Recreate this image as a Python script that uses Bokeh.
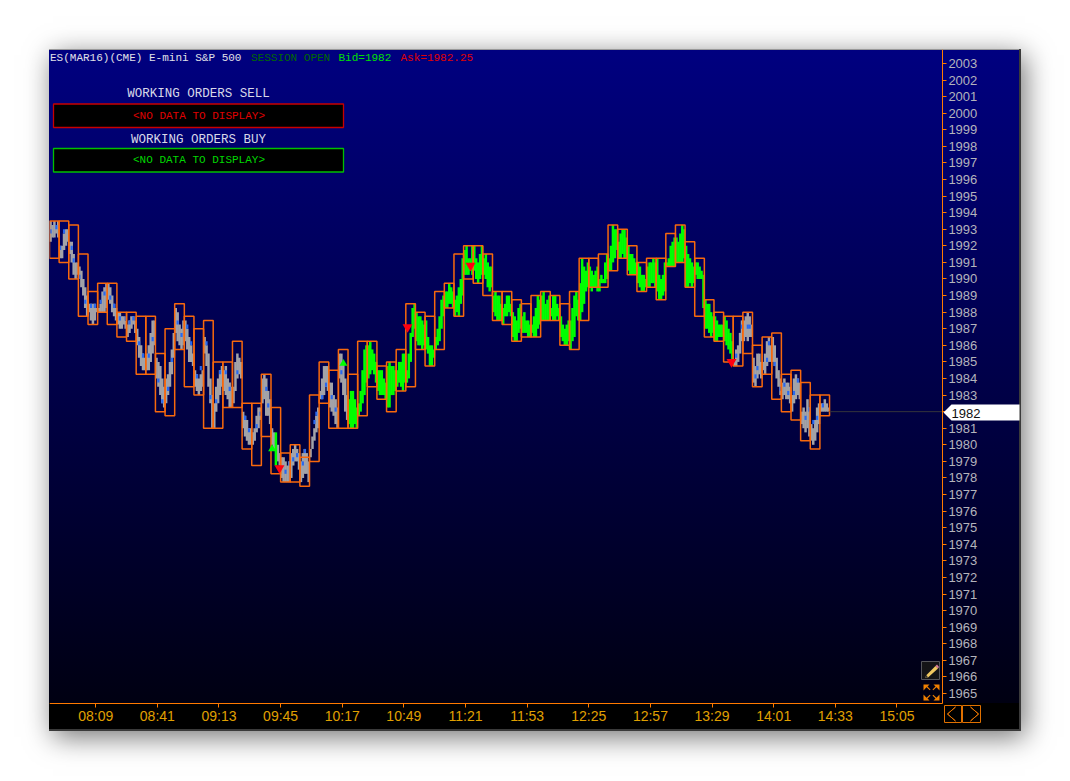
from bokeh.plotting import figure
from bokeh.models import Range1d, FixedTicker, Label, BoxAnnotation, PolyAnnotation
from bokeh.embed import file_html
from bokeh.resources import INLINE

bar_start_minute = 465
bar_minutes = 5
box_high = [1993.5,1993.5,1993.25,1991.5,1989.25,1989.75,1989.75,1988,1988,1987.75,1987.75,1985.5,1987,1988.5,1987.75,1987,1987.5,1985,1985,1986.25,1982.5,1982.5,1984.25,1982.25,1979.5,1980,1979.25,1983,1985,1984.5,1985.75,1984.25,1986.25,1986.25,1984.75,1985,1985.75,1988.5,1988,1987.75,1989.25,1989.75,1991.5,1992,1992,1991.5,1989.25,1989.25,1988.75,1988.5,1989,1989.25,1989,1988.5,1989.25,1991.25,1991.25,1991.5,1993.25,1993,1992,1991,1991.25,1991.25,1992.75,1993.25,1992.25,1991.25,1988.75,1988,1987.75,1987.75,1988,1986,1986.5,1986.75,1984.25,1984.5,1983.75,1983,1983]
box_low = [1991.25,1991,1990,1987.75,1987.25,1988,1987.25,1986.5,1986.25,1984.25,1984.25,1982,1981.75,1985.75,1983.5,1983,1981,1981,1982.25,1982.25,1979.75,1978.75,1980.5,1978.25,1977.75,1977.75,1977.5,1979,1982.5,1981,1981,1981,1981.75,1983.5,1982.75,1982,1983.25,1983.5,1985.75,1984.75,1985.75,1988.25,1987.75,1990,1989.75,1989,1987.5,1987.25,1986.25,1986.5,1986.5,1987.5,1987.5,1986,1985.75,1987.5,1989.5,1989.5,1990.5,1991.25,1990.25,1989.25,1989.5,1988.75,1990.75,1991,1989.5,1987.75,1986.5,1986.25,1985,1984.75,1985.5,1983.5,1984.25,1982.75,1982,1981.5,1980.25,1979.75,1981.75]
minute_high = [
[1993.5,1993.25,1993.5,1993.25,1993.5],[1992,1992,1992.75,1993,1993],[1992.25,1992.25,1991.5,1991,1991],[1990.75,1990.5,1990,1989.5,1989],[1988.5,1988.5,1988.5,1988.5,1988.25],
[1988.25,1988.5,1989.25,1989.5,1989.75],[1989.75,1989.5,1989,1988.5,1988.25],[1988,1988,1987.75,1987.75,1987.5],[1987.25,1987.5,1987.75,1987.75,1987.5],[1987,1986.5,1986,1985.5,1985.25],
[1985.5,1986,1986.75,1987.5,1987.5],[1985.25,1985,1984.75,1984,1983.5],[1984,1984.25,1985,1985.75,1986.75],[1988.25,1988,1987.25,1987,1987.5],[1987.5,1987,1986.5,1986,1985.5],
[1984.5,1984.25,1984,1984.25,1984.5],[1986.5,1986,1985.5,1984,1983],[1982.5,1983.5,1984,1984.5,1984.75],[1984.5,1984.75,1984,1983.75,1983.5],[1983.5,1985,1985.5,1985.25,1985],
[1982,1981.75,1981.5,1981,1981],[1980.75,1981,1981.75,1982.25,1982.25],[1984,1984.25,1984,1983.25,1982.75],[1981,1980.75,1980.75,1980,1979.5],[1979.25,1979.25,1979,1978.75,1979],
[1979.5,1979.75,1980,1979.75,1979.5],[1979,1979.5,1979.75,1979.5,1979],[1979.75,1980.5,1981,1981.75,1982.25],[1983.25,1984,1984.75,1984.75,1984.75],[1983.75,1983.75,1983,1982.75,1982.25],
[1985.5,1985.5,1985,1984,1983],[1982.75,1983.25,1983.25,1982.75,1982.25],[1982.5,1983.25,1984.5,1985.75,1986],[1986,1986.25,1985.75,1985.5,1985],[1984.5,1984.5,1984.5,1984,1983.75],
[1984.75,1985,1984.75,1984.75,1984.5],[1984.5,1985,1985,1985.5,1985.5],[1984.5,1985.5,1986.75,1988.25,1988.5],[1988,1987.75,1987.75,1987.5,1987.25],[1987.5,1986.5,1986,1986,1985.75],
[1986.5,1987,1987.75,1988.75,1989],[1989.25,1989.25,1989.75,1989.5,1989.25],[1988.75,1989,1989.5,1990,1991.25],[1991.75,1992,1991.25,1991.25,1992],[1992,1991.25,1991,1991.5,1992],
[1991.25,1991.5,1991,1990.75,1990.75],[1989,1989.25,1989,1989,1988.5],[1988.25,1988.5,1989,1989,1988.5],[1988,1987.75,1987.5,1988.25,1988.5],[1987.75,1988,1987.5,1987.5,1987.25],
[1987.25,1987.75,1988.25,1989,1988.75],[1989,1989.25,1988.5,1988.75,1989],[1988.25,1989,1989,1988.5,1988.25],[1987.75,1987.25,1987,1987.25,1987.5],[1987.5,1988.25,1989,1989.25,1988.75],
[1989.75,1991.25,1990.75,1990.5,1991],[1990.75,1990.5,1990.25,1990.5,1990.75],[1990,1990.25,1990,1991,1991.5],[1991.25,1992,1993.25,1993,1993],[1992.25,1992.75,1993,1993,1992.5],
[1992,1991.5,1991.5,1991.25,1991],[1991,1990.75,1990.25,1990.25,1990],[1990.75,1991,1991,1991.25,1991],[1991.25,1990.25,1990,1990.25,1991],[1991,1991.25,1992,1992.25,1992.5],
[1992.5,1992.25,1992.75,1993.25,1993],[1992,1991.5,1991.25,1991,1990.75],[1991,1991,1990.75,1990.5,1990.25],[1988.75,1988.5,1988.5,1988,1987.75],[1987.75,1987.5,1987.25,1987.25,1987.25],
[1987.75,1987.5,1987,1986.75,1986.25],[1985,1985.75,1986,1986.75,1987.5],[1987.5,1987.75,1988,1987.75,1987.25],[1985.25,1984.75,1985.5,1985.5,1985],[1985,1985.5,1986.25,1986.5,1986],
[1986.5,1986,1985.25,1984.5,1984],[1983.75,1984,1983.75,1983.75,1983.5],[1983,1984,1984.25,1984,1983.75],[1982,1982.25,1982,1982.75,1982.25],[1981.25,1981,1981.5,1982.25,1982.5],
[1982.5,1982.5,1982.75,1982.5,1982.25]]
minute_low = [
[1992.25,1992.5,1992.5,1992.75,1992.5],[1991.25,1991.25,1991.75,1992,1992.25],[1991.5,1991,1990.25,1990,1990.25],[1990,1989.5,1989,1988.25,1987.75],[1988,1987.5,1987.25,1987.5,1988],
[1988,1988,1988,1988,1988.25],[1988.75,1988.5,1988,1987.75,1987.5],[1987.25,1987,1987,1987.25,1987],[1986.5,1986.75,1987,1987.25,1986.75],[1986,1985.25,1984.75,1984.5,1984.5],
[1984.5,1984.5,1985,1985.5,1986],[1984,1983.5,1983,1982.5,1982.25],[1982.5,1983,1983.5,1984.25,1985.25],[1986.75,1986.25,1986,1985.75,1986],[1986.25,1985.75,1985,1985,1984.75],
[1983.5,1983.25,1983,1983.25,1983.5],[1985.5,1984.75,1983.5,1982.5,1981],[1981,1982,1982.5,1983,1983.5],[1983.25,1983,1982.75,1982.25,1982.25],[1982.5,1983.25,1984,1984.25,1984],
[1981,1980.5,1980.25,1980,1980],[1980,1980.25,1980.75,1981,1981.5],[1982.5,1982.75,1981.75,1981.75,1981.25],[1980,1979.75,1978.75,1979,1978.75],[1978,1977.75,1977.75,1977.75,1977.75],
[1978,1978.75,1979,1979,1978.5],[1977.75,1978,1978.25,1978.25,1977.75],[1979.25,1979.75,1980.25,1980.75,1981],[1982.75,1982.75,1983,1983.5,1983.25],[1982.25,1982,1981.75,1981.25,1981],
[1984,1983.75,1983,1982,1981.5],[1981.25,1981,1981,1981.25,1981],[1981.75,1982,1982.5,1983,1983.75],[1984,1984.25,1984.5,1984.25,1983.75],[1983.25,1983,1983,1983,1982.75],
[1982.25,1982.25,1983,1983,1983.25],[1983.5,1983.75,1983.5,1983.25,1983.75],[1983.75,1984,1985,1986.5,1987],[1986.25,1986,1986,1985.75,1986],[1985.75,1985.5,1984.75,1984.75,1985.25],
[1985.75,1986,1986.25,1987,1987.75],[1988.25,1988.25,1988.5,1988.5,1988.25],[1987.75,1988,1987.75,1988.5,1989],[1990.25,1990.25,1990.25,1990.5,1990.25],[1990.5,1990,1989.75,1990,1990.25],
[1990.25,1990,1989.5,1989.25,1989.5],[1988,1987.75,1987.5,1987.5,1987.5],[1987.25,1987.75,1987.75,1988,1987.75],[1986.5,1986.25,1986.25,1986.75,1987],[1986.75,1986.75,1986.75,1986.5,1986.5],
[1986.75,1986.5,1986.5,1987,1987.25],[1987.5,1987.5,1987.5,1987.5,1987.5],[1987.75,1987.5,1987.5,1987.75,1987.5],[1986.5,1986.25,1986,1986,1986.25],[1985.75,1986.25,1986.5,1987.75,1987.5],
[1987.5,1988,1988.5,1989.25,1989.5],[1989.5,1989.25,1989.5,1989.5,1989.25],[1989.25,1989.75,1989.75,1989.75,1990],[1990.5,1990.5,1991,1991.25,1991.75],[1991.25,1991.25,1991.5,1991.25,1991.25],
[1990.5,1990.25,1990.25,1990.25,1990.25],[1989.75,1989.5,1989.25,1989.25,1989.5],[1989.5,1989.5,1989.75,1989.75,1989.5],[1989.25,1988.75,1988.75,1989,1989.25],[1990.75,1990.75,1990.75,1990.75,1990.75],
[1991,1991,1991,1991,1991.25],[1989.5,1989.5,1989.75,1989.5,1989.75],[1990.25,1990,1990,1990,1988.25],[1987,1987,1986.75,1986.5,1986.75],[1986.25,1986.25,1986.5,1986.5,1986.5],
[1986.25,1986,1985.75,1985.5,1985],[1984.75,1984.75,1985,1985.5,1986.25],[1986.25,1986.5,1986.25,1986.5,1986.5],[1983.75,1983.5,1984,1984.25,1984],[1984.5,1984.25,1984.75,1985,1985],
[1985,1984.75,1984,1983.5,1983],[1982.75,1983,1982.75,1982.75,1982.5],[1982,1982.5,1982.75,1983,1982.75],[1981.25,1981,1980.75,1981,1980.5],[1980.25,1980,1980.25,1980.75,1981.25],
[1982,1982,1982,1982,1982]]
green_bars = list(range(31, 71))
green_extra = [(23, 2)]
speck_bar = [0,0,1,1,2,2,3,3,4,4,5,5,6,6,7,7,8,8,9,9,10,10,11,11,12,12,13,13,14,14,15,15,16,16,17,17,18,18,19,20,20,21,21,22,22,24,24,25,25,26,26,27,27,28,28,29,29,30,71,71,72,72,73,73,74,74,75,75,76,76,77,77,78,78,79,79,80]
speck_col = [0,3,2,0,1,2,0,3,1,3,1,3,3,1,1,4,1,3,1,3,1,3,1,3,1,3,1,3,1,3,1,3,1,3,1,3,1,3,2,1,3,2,4,2,3,2,4,3,1,2,1,2,3,1,3,3,1,1,1,4,2,3,2,1,3,2,4,1,1,3,3,1,2,4,1,3,1]
speck_price = [1992.75,1993,1992.75,1991.75,1991.75,1991,1990,1988.5,1988.25,1988.25,1988.5,1989,1988.25,1988.75,1987.5,1987.5,1987.25,1987.5,1986,1985.25,1985.25,1986.25,1983.75,1982.5,1983.25,1985,1987.25,1986.5,1987,1986,1984,1984.5,1986,1982.75,1982.5,1984.25,1984.25,1983.25,1984.25,1981.5,1980.75,1981,1981.75,1983.25,1982.25,1978.25,1978.75,1979.25,1979,1979.5,1978.75,1981.25,1981.75,1982.75,1983.5,1982,1982.75,1984.25,1985.25,1987,1987,1987,1984.5,1984,1986,1985,1983.25,1984.75,1983.5,1983,1983.75,1983,1981.5,1982,1981.25,1981.5,1982.25]
sell_minute = [584.4, 650.9, 683.6, 819.1]
sell_price = [1978.6, 1987.1, 1990.8, 1985.0]
buy_minute = [580.6, 617.6]
buy_price = [1979.75, 1984.9]
last_price = 1982
x_ticks = [489, 521, 553, 585, 617, 649, 681, 713, 745, 777, 809, 841, 873, 905]
x_labels = ["08:09","08:41","09:13","09:45","10:17","10:49","11:21","11:53","12:25","12:57","13:29","14:01","14:33","15:05"]
y_ticks = list(range(1965, 2004))

ORANGE = "#ff7a00"
BOX = "#f8680c"
GRADIENT = "linear-gradient(180deg,#000080 0px,#000012 654px,#000000 654px,#000000 100%)"
X_AXIS_PRICE = 1964.4
Y_AXIS_MINUTE = 928.6

p = figure(width=972, height=682, output_backend="svg", toolbar_location=None,
           x_range=Range1d(465, 969.67), y_range=Range1d(1962.71, 2003.84),
           y_axis_location="right", min_border_left=0, min_border_top=0,
           min_border_right=0, min_border_bottom=0,
           border_fill_alpha=0, background_fill_alpha=0, outline_line_color=None,
           margin=(49, 0, 0, 49),
           styles={"background": GRADIENT,
                   "box-shadow": "4px 6px 26px rgba(0,0,0,.55), inset -2px -2px 0 #3a3a3a, inset 0 1px 0 #999"})
p.grid.visible = False

ax = p.xaxis[0]
ax.fixed_location = X_AXIS_PRICE
ax.bounds = (465, Y_AXIS_MINUTE)
ax.ticker = FixedTicker(ticks=x_ticks)
ax.major_label_overrides = {t: s for t, s in zip(x_ticks, x_labels)}
ax.axis_line_color = ORANGE
ax.major_tick_line_color = ORANGE
ax.major_tick_in = 0
ax.major_tick_out = 4
ax.minor_tick_line_color = None
ax.major_label_text_color = "#e0a000"
ax.major_label_text_font = "Liberation Sans"
ax.major_label_text_font_size = "14px"
ax.major_label_standoff = 1

ay = p.yaxis[0]
ay.fixed_location = Y_AXIS_MINUTE
ay.bounds = (X_AXIS_PRICE, 2003.84)
ay.ticker = FixedTicker(ticks=y_ticks)
ay.axis_line_color = ORANGE
ay.major_tick_line_color = ORANGE
ay.major_tick_in = 0
ay.major_tick_out = 4
ay.minor_tick_line_color = None
ay.major_label_text_color = "#b4b4bc"
ay.major_label_text_font = "Liberation Sans"
ay.major_label_text_font_size = "13px"
ay.major_label_standoff = 2
ay.formatter.use_scientific = False

# one-minute columns
gl, gr, gt, gb, cl, cr, ct, cb = [], [], [], [], [], [], [], []
for i, (hs, ls) in enumerate(zip(minute_high, minute_low)):
    for c, (h, l) in enumerate(zip(hs, ls)):
        x = bar_start_minute + i * bar_minutes + c
        if i in green_bars or (i, c) in green_extra:
            gl.append(x - .1); gr.append(x + 1.2); gt.append(h); gb.append(l)
        else:
            cl.append(x - .1); cr.append(x + 1.2); ct.append(h); cb.append(l)
p.quad(left=cl, right=cr, top=ct, bottom=cb, fill_color="#a3a3a8", line_color=None)
p.quad(left=gl, right=gr, top=gt, bottom=gb, fill_color="#00ff00", line_color=None)
sx = [bar_start_minute + b * bar_minutes + c for b, c in zip(speck_bar, speck_col)]
p.quad(left=[x for x in sx], right=[x + 1.1 for x in sx],
       top=[v + .25 for v in speck_price], bottom=speck_price,
       fill_color="#2868f0", line_color=None)

# five-minute boxes
n = len(box_high)
bl = [bar_start_minute + i * bar_minutes for i in range(n)]
p.quad(left=bl, right=[x + bar_minutes for x in bl], top=box_high, bottom=box_low,
       fill_alpha=0, line_color=BOX, line_width=1.5)

# last price line
p.segment(x0=[bl[-1] + bar_minutes], x1=[Y_AXIS_MINUTE], y0=[last_price], y1=[last_price],
          line_color="#34343c", line_width=1)

# order markers
p.scatter(sell_minute, sell_price, marker="inverted_triangle", size=10, fill_color="#ff0010", line_color=None)
p.scatter(buy_minute, buy_price, marker="triangle", size=8, fill_color="#00ff00", line_color=None)

# page pixel -> frame relative helpers
FX, FY = 49, 731
def px(v): return v - FX
def py(v): return FY - v

def text(s, x, y, color, size, font="Liberation Mono", align="left"):
    p.add_layout(Label(x=px(x), y=py(y), x_units="screen", y_units="screen", text=s,
                       text_color=color, text_font=font, text_font_size=size,
                       text_align=align, text_baseline="middle", level="overlay"))

def box(l, r, t, b, fill, line, lw=1.0):
    p.add_layout(BoxAnnotation(left=px(l), right=px(r), top=py(t), bottom=py(b),
                               left_units="screen", right_units="screen",
                               top_units="screen", bottom_units="screen",
                               fill_color=fill, fill_alpha=1.0, line_color=line, line_alpha=1.0,
                               line_width=lw, level="annotation"))

def poly(xs, ys, fill, line=None, falpha=1.0, lw=1):
    p.add_layout(PolyAnnotation(xs=[px(v) for v in xs], ys=[py(v) for v in ys],
                                xs_units="screen", ys_units="screen",
                                fill_color=fill, fill_alpha=falpha,
                                line_color=line or "#000000", line_alpha=1.0 if line else 0,
                                line_width=lw, level="annotation"))

text("ES(MAR16)(CME) E-mini S&P 500", 49.5, 57, "#e0e0e8", "11px")
text("SESSION OPEN", 250.5, 57, "#006a00", "11px")
text("Bid=1982", 338, 57, "#00e000", "11px")
text("Ask=1982.25", 400, 57, "#e00000", "11px")

text("WORKING ORDERS SELL", 198, 93, "#d8d8e8", "12.5px", align="center")
box(53, 343, 103.5, 127, "#000000", "#c80000", 1.3)
text("<NO DATA TO DISPLAY>", 198.5, 115, "#e00000", "11px", align="center")
text("WORKING ORDERS BUY", 198, 139, "#d8d8e8", "12.5px", align="center")
box(53, 343, 148, 171.5, "#000000", "#00c000", 1.3)
text("<NO DATA TO DISPLAY>", 198.5, 159, "#00d800", "11px", align="center")

# last price flag
poly([943, 951, 1019, 1019, 951], [412, 404, 404, 420, 420], "#ffffff")
text("1982", 951, 412.5, "#101010", "13px", font="Liberation Sans")

# navigation buttons
box(944, 961, 705, 722, "#000000", "#e07000")
box(962, 980, 705, 722, "#000000", "#e07000")
poly([955, 947, 955, 947], [706.5, 713.5, 720.5, 713.5], "#000000", "#e07000", 0)
poly([970, 978, 970, 978], [706.5, 713.5, 720.5, 713.5], "#000000", "#e07000", 0)

# pencil button
box(921, 939, 661, 679, "#141416", "#55555a")
poly([924.5, 926, 935, 937.5, 927.5], [677.5, 674.5, 665.5, 668, 677], "#f0c860")
poly([935, 936.5, 938.5, 937.5], [665.5, 664, 666.5, 668], "#e080a0")
poly([924.5, 926, 927.5], [677.5, 674.5, 677], "#303030")

# fullscreen arrows
arrow_x = [923, 929, 927, 930, 929.3, 926, 923]
arrow_y = [684, 684, 686, 689, 689.7, 686.7, 690]
for mx in (False, True):
    for my in (False, True):
        poly([1862 - v if mx else v for v in arrow_x],
             [1384 - v if my else v for v in arrow_y], "#f08000")

open("out.html", "w").write(file_html(p, INLINE))
